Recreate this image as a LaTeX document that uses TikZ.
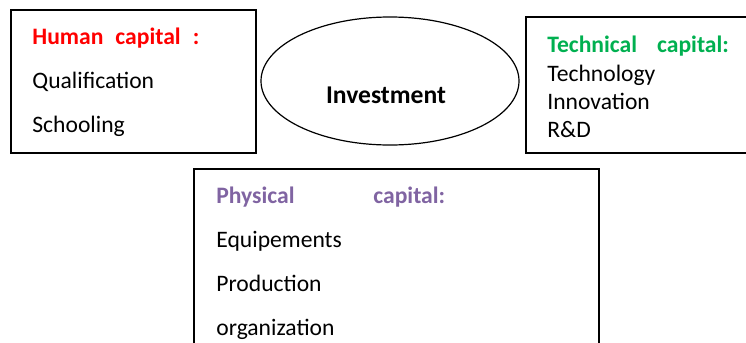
\documentclass[tikz,border=0pt]{standalone}
\usepackage{fontspec}
\setmainfont{Carlito}
\usepackage{tikz}
\usetikzlibrary{shapes.geometric}
\definecolor{humanred}{RGB}{255,0,0}
\definecolor{techgreen}{RGB}{0,176,80}
\definecolor{physpurple}{RGB}{128,100,162}
\def\thickness{0.6pt}
\tikzstyle{capbox}=[rectangle, draw=black, line width=\thickness, inner sep=0pt]
\tikzstyle{hub}=[ellipse, draw=black, line width=\thickness, inner sep=0pt]
\tikzstyle{item}=[anchor=base west, inner sep=0pt, font=\fontsize{11.8}{14}\selectfont]
\tikzstyle{head}=[item, font=\fontsize{11.8}{14}\selectfont\bfseries]

\begin{document}
\begin{tikzpicture}[x=0.5pt, y=-0.5pt]
\useasboundingbox (0,0) rectangle (746,343);
\clip (0,0) rectangle (746,343);
\node [capbox, minimum width=122.5pt, minimum height=71.5pt] (human) at (133.5,81.5) {};
\node [capbox, minimum width=120pt, minimum height=68pt] (technical) at (646,85) {};
\node [capbox, minimum width=202.5pt, minimum height=100pt] (physical) at (396.5,269) {};
\node [hub, minimum width=129pt, minimum height=64pt] (invest) at (390,81) {};
\node [anchor=base, inner sep=0pt, font=\fontsize{12.8}{15}\selectfont\bfseries] (investtext) at (386,103) {Investment};
% human capital
\node [head, text=humanred] (humanhead) at (32,44) {Human\hspace{6pt}capital\hspace{6pt}:};
\node [item] (qualif) at (32,88) {Qualification};
\node [item] (school) at (32,132) {Schooling};
% technical capital
\node [head, text=techgreen] (techhead) at (547,52) {Technical\hspace{10pt}capital:};
\node [item] (techno) at (547,81) {Technology};
\node [item] (innov) at (547,109) {Innovation};
\node [item] (rnd) at (547,137) {R\&D};
% physical capital
\node [head, text=physpurple] (physhead) at (216,203) {Physical};
\node [head, text=physpurple] (physcap) at (373,203) {capital:};
\node [item] (equip) at (216,247) {Equipements};
\node [item] (prod) at (216,291) {Production};
\node [item] (organ) at (216,335) {organization};
\end{tikzpicture}
\end{document}
